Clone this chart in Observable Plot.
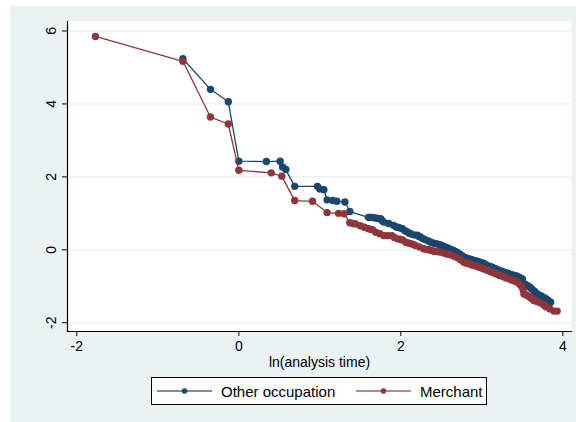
<!DOCTYPE html>
<html><head><meta charset="utf-8">
<script src="https://cdn.jsdelivr.net/npm/d3@7"></script>
<script src="https://cdn.jsdelivr.net/npm/@observablehq/plot@0.6"></script>
<style>
body{margin:0;background:#fff;}
#wrap{position:relative;width:576px;height:422px;background:#fff;font-family:"Liberation Sans",Arial,sans-serif;overflow:hidden;}
#bg{position:absolute;left:10px;top:6px;width:566px;height:416px;background:#eaf2f3;}
#chart{position:absolute;left:10px;top:6px;}
#legend{position:absolute;left:151px;top:377px;width:334px;height:26px;border:1px solid #000;background:#fff;font-size:15px;color:#000;}
#legend .item{position:absolute;top:0;height:26px;display:flex;align-items:center;}
#legend svg{display:block;margin-right:9px;}
</style></head>
<body>
<div id="wrap"><div id="bg"></div><div id="chart"></div><div id="legend"></div></div>
<script>
const seriesNames = ["Other occupation", "Merchant"];
const seriesColors = ["#1a476f", "#90353b"];
const xTicks = [-2, 0, 2, 4];
const yTicks = [-2, 0, 2, 4, 6];
const xLabel = "ln(analysis time)";

const otherX = [-0.69, -0.35, -0.13, 0.0, 0.34, 0.51, 0.54, 0.58, 0.69, 0.97, 1.0, 1.05, 1.09, 1.16, 1.21, 1.31, 1.37,
  1.60, 1.62, 1.64, 1.67, 1.70, 1.72, 1.75, 1.77, 1.79, 1.85, 1.91, 1.94, 1.96, 1.99, 2.02, 2.05, 2.07, 2.10, 2.12, 2.16, 2.20, 2.22, 2.24, 2.27, 2.30, 2.34, 2.37, 2.41, 2.45, 2.48, 2.50, 2.53, 2.55, 2.58, 2.62, 2.65, 2.68, 2.70, 2.73, 2.76, 2.78, 2.81, 2.85, 2.88, 2.92, 2.95, 2.98, 3.01, 3.03, 3.06, 3.09, 3.12, 3.14, 3.17, 3.20, 3.24, 3.27, 3.30, 3.33, 3.37, 3.40, 3.43, 3.46, 3.48, 3.50, 3.52, 3.54, 3.56, 3.59, 3.61, 3.64, 3.66, 3.68, 3.71, 3.74, 3.77, 3.79, 3.82, 3.85];
const otherY = [5.24, 4.40, 4.06, 2.43, 2.42, 2.43, 2.27, 2.20, 1.74, 1.74, 1.67, 1.65, 1.37, 1.35, 1.33, 1.31, 1.05,
  0.89, 0.89, 0.89, 0.88, 0.87, 0.86, 0.85, 0.80, 0.76, 0.72, 0.67, 0.63, 0.62, 0.60, 0.58, 0.52, 0.50, 0.46, 0.44, 0.41, 0.40, 0.37, 0.35, 0.31, 0.28, 0.24, 0.21, 0.18, 0.16, 0.14, 0.12, 0.09, 0.07, 0.05, 0.01, -0.02, -0.05, -0.08, -0.12, -0.17, -0.20, -0.22, -0.25, -0.27, -0.30, -0.32, -0.34, -0.36, -0.38, -0.42, -0.45, -0.47, -0.49, -0.52, -0.55, -0.58, -0.61, -0.63, -0.65, -0.68, -0.70, -0.72, -0.75, -0.78, -0.80, -0.93, -0.96, -0.98, -1.02, -1.06, -1.12, -1.16, -1.21, -1.24, -1.27, -1.31, -1.34, -1.39, -1.44];

const merchX = [-1.77, -0.69, -0.35, -0.13, 0.0, 0.40, 0.53, 0.69, 0.91, 1.09, 1.23, 1.30,
  1.37, 1.41, 1.44, 1.50, 1.55, 1.60, 1.63, 1.65, 1.69, 1.74, 1.79, 1.84, 1.89, 1.92, 1.96, 1.99, 2.02, 2.06, 2.09, 2.12, 2.15, 2.18, 2.23, 2.28, 2.32, 2.35, 2.38, 2.41, 2.45, 2.48, 2.52, 2.55, 2.58, 2.62, 2.66, 2.70, 2.74, 2.78, 2.81, 2.85, 2.88, 2.92, 2.95, 2.97, 3.00, 3.02, 3.05, 3.08, 3.11, 3.14, 3.16, 3.18, 3.21, 3.23, 3.27, 3.30, 3.34, 3.37, 3.41, 3.44, 3.47, 3.49, 3.51, 3.52, 3.55, 3.58, 3.61, 3.64, 3.68, 3.72, 3.76, 3.79, 3.84, 3.89, 3.93];
const merchY = [5.85, 5.17, 3.64, 3.45, 2.18, 2.11, 2.02, 1.35, 1.33, 1.02, 1.00, 0.99,
  0.74, 0.72, 0.71, 0.66, 0.62, 0.58, 0.56, 0.55, 0.48, 0.44, 0.39, 0.39, 0.39, 0.34, 0.30, 0.29, 0.27, 0.21, 0.19, 0.17, 0.15, 0.12, 0.08, 0.03, 0.01, 0.00, -0.02, -0.04, -0.05, -0.06, -0.08, -0.10, -0.12, -0.14, -0.18, -0.22, -0.28, -0.34, -0.37, -0.39, -0.42, -0.44, -0.46, -0.48, -0.50, -0.52, -0.55, -0.57, -0.60, -0.62, -0.64, -0.66, -0.69, -0.71, -0.74, -0.77, -0.80, -0.83, -0.86, -0.89, -0.95, -1.00, -1.10, -1.21, -1.24, -1.28, -1.33, -1.39, -1.42, -1.45, -1.50, -1.56, -1.62, -1.68, -1.68];

const other = otherX.map((x, i) => ({lt: x, v: otherY[i]}));
const merch = merchX.map((x, i) => ({lt: x, v: merchY[i]}));

const fmt = d => String(d);
const font = '"Liberation Sans", Arial, sans-serif';
const chart = Plot.plot({
  width: 566,
  height: 372,
  marginLeft: 57,
  marginRight: 5,
  marginTop: 15,
  marginBottom: 47,
  style: {background: "transparent", fontFamily: font, fontSize: "14px", color: "#000"},
  x: {domain: [-2.115, 4.107]},
  y: {domain: [-2.24, 6.26]},
  marks: [
    Plot.frame({fill: "#fff", stroke: "none"}),
    Plot.gridY(yTicks, {stroke: "#e3ecee", strokeOpacity: 1, strokeWidth: 1}),
    Plot.frame({anchor: "left", stroke: "#000", strokeWidth: 1.2}),
    Plot.frame({anchor: "bottom", stroke: "#000", strokeWidth: 1.2}),
    Plot.axisY({ticks: yTicks, tickFormat: fmt, tickSize: 5, tickPadding: 7, tickRotate: -90, label: null, fontSize: 14}),
    Plot.axisX({ticks: xTicks, tickFormat: fmt, tickSize: 5, tickPadding: 5, label: null, fontSize: 14}),
    Plot.text([xLabel], {frameAnchor: "bottom", lineAnchor: "top", dy: 26, fontSize: 14}),
    Plot.line(other, {x: "lt", y: "v", stroke: seriesColors[0], strokeWidth: 1.3}),
    Plot.dot(other, {x: "lt", y: "v", fill: seriesColors[0], r: 3.7}),
    Plot.line(merch, {x: "lt", y: "v", stroke: seriesColors[1], strokeWidth: 1.3}),
    Plot.dot(merch, {x: "lt", y: "v", fill: seriesColors[1], r: 3.7})
  ]
});
document.getElementById("chart").appendChild(chart);

const legend = document.getElementById("legend");
const lefts = [5, 204];
seriesNames.forEach((name, i) => {
  const item = document.createElement("div");
  item.className = "item";
  item.style.left = lefts[i] + "px";
  item.innerHTML = `<svg width="55" height="10"><line x1="0" x2="55" y1="5" y2="5" stroke="${seriesColors[i]}" stroke-opacity="0.8" stroke-width="1.3"/><circle cx="27.5" cy="5" r="2.8" fill="${seriesColors[i]}"/></svg><span>${name}</span>`;
  legend.appendChild(item);
});
</script>
</body></html>
